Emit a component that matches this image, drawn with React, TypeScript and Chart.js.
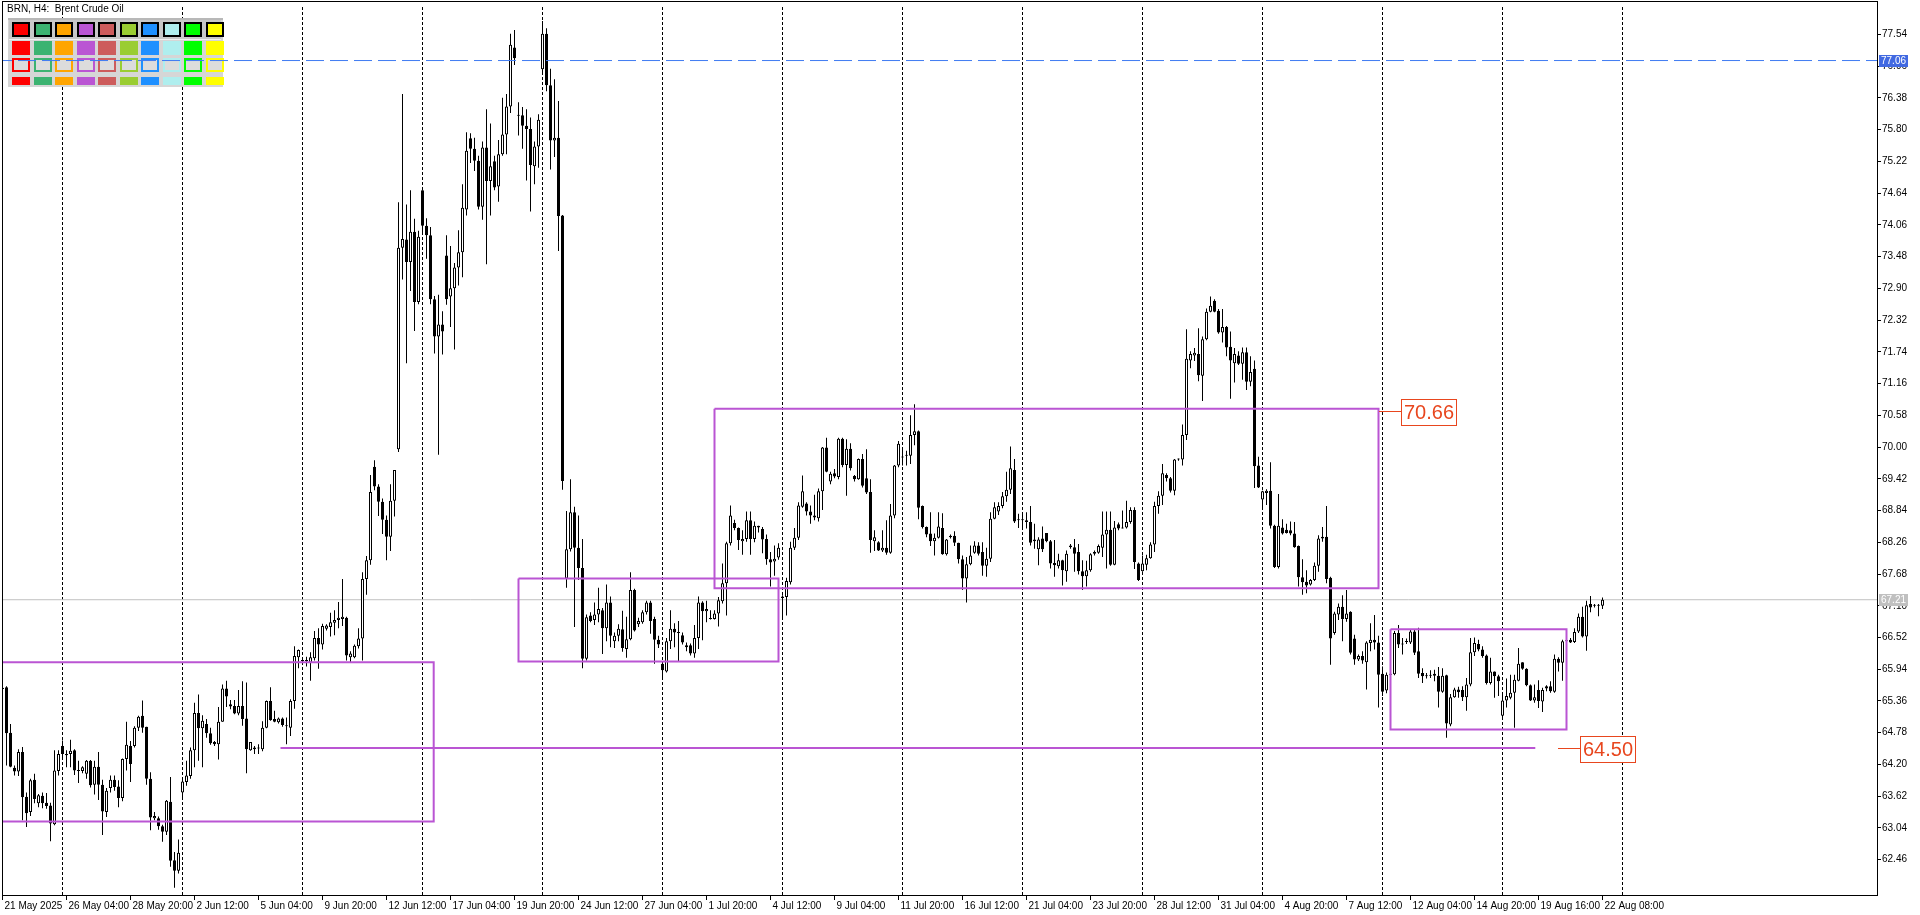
import React, { useEffect, useRef } from 'react';
import { Chart, registerables } from 'chart.js';

Chart.register(...registerables);

// ---- H4 candles (bar index 0 = 21 May 2025) ----
const opens = [
65.60,65.61,64.78,64.14,64.07,64.43,63.61,63.33,63.92,63.49,63.63,63.50,63.45,63.11,64.08,64.54,64.39,64.39,64.46,64.10,
64.08,64.03,64.27,63.83,64.16,63.83,63.33,63.77,63.92,63.80,63.59,64.30,64.54,64.54,64.87,65.09,64.89,63.94,63.22,63.22,
63.07,62.97,63.52,62.45,62.26,63.69,63.88,63.99,64.46,65.14,64.86,64.94,64.77,64.61,64.57,64.98,65.59,65.30,65.27,65.13,
65.27,65.04,64.46,64.51,64.49,64.48,64.87,65.36,65.03,64.97,65.04,64.91,64.87,65.36,66.16,66.10,66.11,66.06,66.14,66.51,
66.39,66.68,66.71,66.79,66.84,66.86,66.88,66.16,66.16,66.36,66.50,67.59,67.93,69.64,69.28,69.00,68.67,68.36,69.02,69.96,
73.64,73.79,73.38,73.93,72.65,74.69,74.04,73.87,72.70,72.02,72.24,73.50,72.75,72.90,73.28,73.56,74.34,75.64,75.45,75.23,
74.39,75.47,74.86,75.22,74.76,75.35,75.71,76.22,77.30,76.06,76.06,75.87,75.81,75.13,75.49,76.90,77.55,76.61,75.60,75.65,
74.23,67.60,68.13,68.81,68.16,67.79,66.13,66.92,66.84,66.94,67.02,66.69,67.16,66.45,66.55,66.67,66.31,66.49,67.39,66.76,
66.80,66.98,67.16,66.86,66.48,66.04,65.90,66.45,66.68,66.61,66.56,66.38,66.38,66.23,66.51,67.16,67.00,66.87,66.86,66.96,
67.18,67.51,68.24,68.61,68.52,68.28,68.32,68.66,68.32,68.53,68.50,68.32,67.95,67.91,67.98,67.24,67.26,67.53,68.16,68.34,
68.91,68.97,68.82,68.75,68.70,69.19,69.99,69.37,69.52,69.45,70.15,69.67,69.97,69.47,69.41,69.78,69.43,69.18,68.28,68.26,
68.11,68.16,68.07,68.75,69.66,69.81,69.85,69.84,70.22,70.29,68.92,68.54,68.42,68.28,68.34,68.52,68.04,68.38,68.38,68.25,
67.95,67.60,67.86,68.07,68.20,68.08,67.83,67.96,68.69,68.82,68.92,69.10,69.22,69.58,68.66,68.66,68.66,68.63,68.28,68.13,
68.33,68.43,68.28,67.88,67.82,67.93,67.73,68.20,68.17,68.08,67.73,67.64,67.75,68.05,68.07,68.16,68.40,68.49,67.85,68.59,
68.51,68.53,68.63,68.85,67.87,67.73,67.85,67.97,68.22,68.92,69.11,69.49,69.43,69.20,69.77,69.77,70.22,71.58,71.67,71.70,
71.30,71.97,72.47,72.67,72.49,72.09,72.19,71.83,71.53,71.67,71.52,71.73,71.19,71.43,69.66,69.04,69.16,69.20,68.56,67.81,
68.53,68.49,68.48,68.42,68.19,67.62,67.54,67.49,67.57,67.83,68.33,68.36,67.61,66.60,66.94,67.08,66.86,66.99,66.50,66.12,
66.18,66.07,66.42,66.48,66.43,65.86,65.55,65.84,65.85,66.60,66.39,66.44,66.43,66.63,66.27,65.87,65.81,65.82,65.82,65.82,
65.53,65.83,64.93,65.43,65.57,65.56,65.43,65.66,66.25,66.40,66.30,66.19,65.69,65.90,65.81,65.09,65.37,65.42,65.51,65.73,
66.07,65.95,65.65,65.37,65.56,65.35,65.63,65.63,65.53,66.13,66.06,66.45,66.48,66.44,66.63,66.90,66.54,67.13,67.10,67.10,
67.10];
const highs = [
65.62,65.63,64.94,64.18,64.48,64.52,63.69,63.94,64.03,63.66,63.69,63.68,63.50,64.46,64.46,64.64,64.46,64.65,64.48,64.27,
64.17,64.28,64.28,64.27,64.43,63.92,63.77,64.00,64.00,63.91,64.31,64.98,64.63,64.90,65.09,65.37,64.89,64.06,63.33,63.25,
63.10,63.55,63.97,62.60,62.83,63.97,64.27,64.51,65.33,65.48,65.10,65.03,64.87,64.63,65.25,65.66,65.73,65.38,65.38,65.56,
65.72,65.70,64.61,64.54,64.57,64.99,65.37,65.61,65.18,65.06,65.06,65.06,65.39,66.36,66.30,66.13,66.17,66.25,66.64,66.69,
66.77,66.76,66.97,67.02,67.17,67.59,66.90,66.27,66.39,66.69,67.71,68.01,69.49,69.76,69.32,69.06,68.75,69.32,69.58,74.47,
76.45,74.43,74.69,74.17,73.95,74.69,74.18,74.02,72.76,72.78,72.48,73.87,73.67,73.36,73.96,74.80,75.75,75.73,75.65,75.32,
75.58,76.17,75.91,75.32,75.61,76.38,76.45,77.55,77.62,76.30,76.21,76.17,76.02,75.58,76.08,77.78,77.65,76.91,76.72,76.32,
74.24,68.83,69.41,68.91,68.75,68.32,66.94,66.98,67.16,67.43,67.06,67.49,67.27,66.61,66.76,67.01,66.90,67.71,67.41,66.88,
67.02,67.19,67.19,66.90,66.55,66.09,66.51,67.02,66.78,66.82,66.61,66.43,66.41,66.75,67.27,67.18,67.19,67.02,67.02,67.26,
67.87,68.27,68.93,68.67,68.53,68.48,68.82,68.82,68.64,68.56,68.54,68.40,68.08,68.20,68.24,67.29,67.61,68.27,68.52,68.99,
69.48,68.99,68.93,69.13,69.24,70.00,70.17,69.55,69.60,70.17,70.17,70.14,70.07,69.49,69.79,69.87,69.96,69.41,68.48,68.28,
68.48,68.66,68.96,69.67,70.11,69.97,69.93,70.58,70.78,70.30,68.93,68.55,68.81,68.42,68.81,68.79,68.32,68.40,68.46,68.25,
68.02,67.99,68.20,68.28,68.26,68.26,68.16,68.81,68.99,68.99,69.18,69.55,70.01,69.78,68.78,68.76,68.81,68.92,68.60,68.35,
68.55,68.43,68.30,68.30,68.05,67.94,68.11,68.23,68.32,68.23,67.93,67.92,68.06,68.11,68.22,68.82,68.82,68.82,68.65,68.62,
68.84,69.02,68.90,68.90,67.89,68.02,68.03,68.26,69.00,69.19,69.69,69.52,69.45,69.78,69.79,70.41,72.15,71.75,71.81,72.17,
72.02,72.53,72.75,72.70,72.52,72.52,72.21,72.11,71.81,71.75,71.82,71.82,71.66,71.58,69.82,69.20,69.23,69.72,68.58,69.14,
68.68,68.60,68.64,68.63,68.20,67.95,67.75,67.59,67.89,68.39,68.54,68.92,67.63,66.99,67.14,67.29,67.39,67.00,66.57,66.21,
66.27,66.45,66.78,66.93,66.55,65.99,65.88,65.95,66.64,66.75,66.51,66.50,66.66,66.66,66.70,65.96,65.87,65.92,65.93,65.98,
65.96,65.84,65.49,65.60,65.62,65.63,65.78,66.51,66.52,66.48,66.36,66.21,66.15,65.90,65.84,65.49,65.77,65.84,65.84,66.33,
66.07,65.96,65.66,65.66,65.74,65.60,65.65,65.72,66.21,66.16,66.48,66.55,66.51,66.69,66.96,67.08,67.19,67.28,67.13,67.13,
67.25];
const lows = [
65.50,64.18,64.15,64.00,63.99,63.18,63.06,63.26,63.49,63.42,63.40,63.39,62.80,63.09,64.00,64.30,64.15,64.15,64.01,63.86,
64.04,63.94,63.78,63.65,63.55,62.91,63.24,63.69,63.72,63.42,63.53,64.09,63.88,64.51,64.81,64.78,63.83,63.00,63.18,63.01,
62.79,62.91,62.33,61.95,62.21,63.60,63.81,63.94,64.15,64.27,64.15,64.69,64.56,64.54,64.29,64.98,65.25,65.21,65.12,65.10,
64.91,64.04,64.45,64.39,64.39,64.44,64.86,65.00,64.97,64.95,64.89,64.57,64.72,65.22,65.96,66.05,65.99,65.73,66.10,65.95,
66.30,66.65,66.54,66.56,66.69,66.73,66.10,66.06,66.14,66.32,66.10,67.30,67.85,69.21,68.74,68.41,67.93,68.10,68.73,69.91,
73.06,71.53,72.85,72.12,72.61,73.88,73.44,72.61,71.71,69.86,71.69,72.60,72.19,71.78,72.95,73.10,74.23,75.19,75.04,74.34,
74.15,73.34,74.23,74.69,74.48,75.32,75.35,76.10,76.98,75.69,75.45,74.87,74.30,74.80,75.10,76.80,76.50,75.07,75.30,73.58,
69.22,67.43,68.09,66.71,67.57,65.96,66.10,66.80,66.75,66.80,66.22,66.45,66.34,66.33,66.45,66.26,66.15,66.47,66.63,66.71,
66.77,66.94,66.59,66.04,66.33,65.76,65.88,66.31,66.34,66.08,66.39,66.27,66.19,66.15,66.31,66.47,66.80,66.85,66.85,66.72,
67.14,66.92,68.20,68.48,68.12,68.03,68.27,68.03,68.26,68.44,68.06,67.85,67.45,67.65,67.94,66.88,66.92,67.49,68.12,68.30,
68.89,68.75,68.60,68.66,68.64,68.85,69.54,69.32,69.43,69.41,69.63,69.11,69.57,69.37,69.40,69.26,69.14,68.07,68.10,68.10,
68.08,68.03,68.05,68.70,69.63,69.66,69.66,69.69,70.03,68.68,68.51,68.35,68.19,68.02,68.33,68.03,68.02,68.33,68.19,67.87,
67.39,67.16,67.84,68.05,68.02,67.65,67.63,67.90,68.68,68.76,68.88,69.00,69.14,68.61,68.52,68.51,68.51,68.20,68.14,67.84,
68.08,68.26,67.78,67.63,67.78,67.47,67.54,68.14,67.72,67.67,67.39,67.45,67.72,68.02,68.05,67.99,67.78,67.83,67.84,68.48,
68.51,68.51,68.60,67.77,67.55,67.72,67.75,67.96,68.08,68.78,68.94,69.37,69.17,69.12,69.75,69.66,70.13,71.44,71.57,71.20,
70.84,71.95,72.46,72.46,72.07,71.91,71.66,70.88,71.18,71.50,71.23,71.04,71.11,69.25,69.25,68.88,68.94,68.51,67.79,67.78,
68.40,68.42,68.39,68.16,67.45,67.30,67.33,67.47,67.55,67.72,68.27,67.51,66.02,66.57,66.84,66.45,66.81,66.21,66.02,66.09,
66.04,65.57,66.27,66.30,65.24,65.45,65.50,65.75,65.83,66.33,66.21,66.40,66.40,66.20,65.78,65.69,65.77,65.78,65.72,65.24,
65.51,64.69,64.90,65.42,65.42,65.36,65.18,65.63,66.18,66.27,66.15,65.66,65.66,65.42,65.45,65.03,65.24,65.39,64.87,65.72,
65.93,65.63,65.36,65.33,65.23,65.16,65.54,65.51,65.51,65.90,65.73,66.40,66.42,66.42,66.60,66.52,66.28,66.98,67.07,66.91,
67.04];
const closes = [
65.58,64.77,64.16,64.07,64.43,63.60,63.31,63.91,63.57,63.64,63.49,63.44,63.12,64.09,64.39,64.39,64.37,64.45,64.09,64.08,
64.15,64.27,63.82,64.16,63.83,63.34,63.72,63.92,63.79,63.59,64.30,64.56,64.21,64.87,65.07,64.87,63.94,63.23,63.26,63.07,
62.97,63.54,62.44,62.26,62.59,63.89,64.00,64.46,65.14,64.86,65.00,64.77,64.59,64.57,64.98,65.59,65.44,65.26,65.13,65.27,
65.03,64.48,64.61,64.48,64.49,64.87,65.36,65.01,64.98,65.04,64.92,64.90,65.36,66.18,66.29,66.09,66.09,66.16,66.51,66.39,
66.73,66.74,66.80,66.84,66.88,66.90,66.19,66.23,66.37,66.50,67.59,67.93,69.18,69.28,69.00,68.67,68.36,69.02,69.58,73.64,
73.80,73.38,73.93,72.65,73.84,74.04,73.87,72.70,72.02,72.24,72.11,72.70,72.90,73.28,73.56,74.37,75.41,75.45,75.23,74.39,
75.47,74.86,75.13,74.74,75.35,75.71,76.22,77.35,77.10,76.05,75.87,75.81,75.15,75.49,75.98,77.55,76.61,75.60,75.65,74.22,
69.38,68.13,68.81,68.16,67.79,66.13,66.89,66.82,66.94,67.04,66.69,67.16,66.55,66.55,66.68,66.33,66.49,67.39,66.65,66.82,
66.98,67.16,66.82,66.48,66.39,65.92,66.45,66.68,66.61,66.60,66.43,66.34,66.23,66.51,67.16,67.00,67.04,66.86,66.96,67.20,
67.51,68.24,68.75,68.52,68.30,68.32,68.66,68.32,68.56,68.56,68.31,67.95,67.89,67.96,68.16,67.27,67.55,68.16,68.34,68.93,
69.19,68.82,68.75,68.71,69.19,69.99,69.55,69.51,69.46,70.15,69.67,69.97,69.61,69.41,69.78,69.29,69.17,68.30,68.35,68.11,
68.16,68.07,68.75,69.66,70.06,69.82,69.84,70.22,70.29,68.89,68.54,68.40,68.28,68.34,68.55,68.04,68.31,68.35,68.25,67.95,
67.60,67.86,68.02,68.20,68.05,67.83,67.96,68.69,68.90,68.92,69.10,69.22,69.61,68.64,68.66,68.66,68.63,68.25,68.31,68.31,
68.13,68.28,67.87,67.84,67.93,67.75,68.05,68.17,68.05,67.73,67.64,67.75,68.04,68.08,68.19,68.40,68.49,67.85,68.53,68.51,
68.53,68.63,68.85,67.90,67.57,67.87,67.97,68.22,68.92,69.11,69.52,69.43,69.20,69.77,69.78,70.22,71.61,71.70,71.72,71.31,
71.97,72.47,72.58,72.47,72.09,72.19,71.82,71.58,71.70,71.52,71.73,71.19,71.37,69.65,69.26,69.19,69.20,68.56,67.81,68.56,
68.42,68.43,68.42,68.17,67.62,67.53,67.47,67.57,67.83,68.33,68.36,67.59,66.50,66.96,67.08,66.86,66.96,66.24,66.12,66.18,
66.10,66.43,66.48,66.43,65.84,65.53,65.84,65.86,66.60,66.39,66.41,66.44,66.63,66.24,65.86,65.81,65.81,65.82,65.86,65.53,
65.82,64.95,65.43,65.57,65.52,65.43,65.66,66.25,66.42,66.30,66.18,65.69,65.90,65.81,65.72,65.37,65.45,65.51,65.75,66.04,
65.95,65.65,65.37,65.43,65.36,65.56,65.59,65.54,66.13,66.06,66.45,66.47,66.43,66.62,66.90,66.54,67.11,67.07,67.10,67.10,
67.21];

// ---- axes ----
const xTickBars = [0,16,32,48,64,80,96,112,128,144,160,176,192,208,224,240,256,272,288,304,320,336,352,368,384,400];
const xTickLabels = ['21 May 2025','26 May 04:00','28 May 20:00','2 Jun 12:00','5 Jun 04:00','9 Jun 20:00','12 Jun 12:00',
  '17 Jun 04:00','19 Jun 20:00','24 Jun 12:00','27 Jun 04:00','1 Jul 20:00','4 Jul 12:00','9 Jul 04:00','11 Jul 20:00',
  '16 Jul 12:00','21 Jul 04:00','23 Jul 20:00','28 Jul 12:00','31 Jul 04:00','4 Aug 20:00','7 Aug 12:00','12 Aug 04:00',
  '14 Aug 20:00','19 Aug 16:00','22 Aug 08:00'];
const separatorBars = [15,45,75,105,135,165,195,225,255,285,315,345,375,405];
const yTickValues = [62.46,63.04,63.62,64.20,64.78,65.36,65.94,66.52,67.10,67.68,68.26,68.84,69.42,70.00,70.58,71.16,
  71.74,72.32,72.90,73.48,74.06,74.64,75.22,75.80,76.38,76.96,77.54];

// ---- drawn objects ----
const currentPrice = 67.21;
const hLinePrice = 77.06;
const boxX1 = [-6, 129, 178, 347];
const boxX2 = [107.8, 194, 344, 391];
const boxTop = [66.07, 67.60, 70.70, 66.67];
const boxBottom = [63.16, 66.08, 67.42, 64.84];
const supportBars = [69.5, 383.2];
const supportPrice = 64.50;
const labelBars = [344, 388.9];
const labelPrices = [70.66, 64.50];
const panelColors = ['#ff0000','#3cb371','#ffa500','#ba55d3','#cd5c5c','#9acd32','#1e90ff','#afeeee','#00ff00','#ffff00'];

const X_MIN = -0.125;
const X_MAX = 468.625;
const Y_MIN = 61.816;
const Y_MAX = 78.038;
const FONT = "'Liberation Sans', Arial, sans-serif";

export default function App() {
  const ref = useRef<HTMLCanvasElement | null>(null);

  useEffect(() => {
    document.body.style.margin = '0';
    const canvas = ref.current;
    if (!canvas) return;

    const idx = opens.map((_, i) => i);
    const bodyData = idx.map(i => ({ x: i, y: [opens[i], closes[i]] }));
    const wickData = idx.map(i => ({ x: i, y: [lows[i], highs[i]] }));

    const boxDatasets = boxX1.map((_, k) => ({
      type: 'line' as const,
      data: [
        { x: boxX1[k], y: boxTop[k] }, { x: boxX2[k], y: boxTop[k] },
        { x: boxX2[k], y: boxBottom[k] }, { x: boxX1[k], y: boxBottom[k] },
        { x: boxX1[k], y: boxTop[k] },
      ],
      borderColor: '#ba55d3', borderWidth: 2, pointRadius: 0, tension: 0, fill: false, order: -2,
      xAxisID: 'x', yAxisID: 'y',
    }));

    const panelPlugin = {
      id: 'mtPanel',
      beforeDatasetsDraw(chart: any) {
        const ctx = chart.ctx;
        ctx.save();
        ctx.fillStyle = '#d6d6d6';
        ctx.fillRect(8, 18, 215, 69);
        ctx.fillStyle = '#b8b8b8';
        ctx.fillRect(8, 18, 215, 2);
        ctx.fillStyle = '#c8c8c8';
        ctx.fillRect(9, 20, 212, 19);
        ctx.fillStyle = '#f0f0f0';
        ctx.fillRect(9, 39, 212, 1);
        panelColors.forEach((c, k) => {
          const xi = Math.round(12 + k * 21.5);
          ctx.fillStyle = '#000';
          ctx.fillRect(xi, 22, 18, 15);
          ctx.fillStyle = c;
          ctx.fillRect(xi + 2, 24, 14, 11);
          ctx.fillStyle = c;
          ctx.fillRect(xi, 41, 18, 14);
          ctx.fillRect(xi, 58, 18, 14);
          ctx.fillStyle = '#dcdcdc';
          ctx.fillRect(xi + 2, 60, 14, 10);
          ctx.fillStyle = c;
          ctx.fillRect(xi, 77, 18, 8);
        });
        ctx.restore();
      },
    };

    const overlayPlugin = {
      id: 'mtOverlay',
      afterDraw(chart: any) {
        const ctx = chart.ctx;
        const xs = chart.scales.x;
        const ys = chart.scales.y;
        const area = chart.chartArea;
        ctx.save();
        ctx.strokeStyle = '#000';
        ctx.lineWidth = 1;
        ctx.beginPath();
        ctx.moveTo(2.5, 1);
        ctx.lineTo(2.5, area.bottom);
        ctx.moveTo(2, 1.5);
        ctx.lineTo(area.right + 1, 1.5);
        ctx.moveTo(area.right + 0.5, 1);
        ctx.lineTo(area.right + 0.5, area.bottom);
        ctx.stroke();
        ctx.fillStyle = '#000';
        ctx.font = `10px ${FONT}`;
        ctx.textAlign = 'left';
        ctx.textBaseline = 'middle';
        ctx.fillText('BRN, H4:  Brent Crude Oil', 7, 9);
        labelBars.forEach((b, k) => {
          const x = Math.round(xs.getPixelForValue(b));
          const y = Math.round(ys.getPixelForValue(labelPrices[k]));
          ctx.strokeStyle = '#e8461e';
          ctx.lineWidth = 1;
          ctx.beginPath();
          ctx.moveTo(x, y + 0.5);
          ctx.lineTo(x + 22, y + 0.5);
          ctx.stroke();
          ctx.fillStyle = '#ffffff';
          ctx.fillRect(x + 22, y - 12, 55, 26);
          ctx.strokeRect(x + 22.5, y - 11.5, 55, 26);
          ctx.fillStyle = '#e8461e';
          ctx.font = `20px ${FONT}`;
          ctx.textAlign = 'center';
          ctx.textBaseline = 'middle';
          ctx.fillText(labelPrices[k].toFixed(2), x + 50, y + 2);
        });
        const tag = (price: number, bg: string, fg: string) => {
          const y = Math.round(ys.getPixelForValue(price));
          ctx.fillStyle = bg;
          ctx.fillRect(area.right + 2, y - 6, 29, 12);
          ctx.fillStyle = fg;
          ctx.font = `10px ${FONT}`;
          ctx.textAlign = 'left';
          ctx.textBaseline = 'middle';
          ctx.fillText(price.toFixed(2), area.right + 4, y + 0.5);
        };
        tag(hLinePrice, '#4169e1', '#ffffff');
        tag(currentPrice, '#c0c0c0', '#ffffff');
        ctx.restore();
      },
    };

    const chart = new Chart(canvas, {
      type: 'bar',
      data: {
        datasets: [
          {
            type: 'bar',
            data: bodyData as any,
            backgroundColor: (c: any) => (closes[c.dataIndex] >= opens[c.dataIndex] ? '#ffffff' : '#000000'),
            borderColor: '#000000',
            borderWidth: 1,
            borderSkipped: false,
            barThickness: 3,
            minBarLength: 1,
            inflateAmount: 0,
            grouped: false,
            order: 0,
            xAxisID: 'x', yAxisID: 'y',
          } as any,
          {
            type: 'bar',
            data: wickData as any,
            backgroundColor: '#000000',
            borderWidth: 0,
            barThickness: 1,
            minBarLength: 1,
            inflateAmount: 0,
            grouped: false,
            order: 1,
            xAxisID: 'x', yAxisID: 'y',
          } as any,
          {
            type: 'line',
            data: [{ x: X_MIN - 2, y: currentPrice }, { x: X_MAX + 2, y: currentPrice }],
            borderColor: '#c0c0c0', borderWidth: 1, pointRadius: 0, fill: false, order: 3,
            xAxisID: 'x', yAxisID: 'y',
          } as any,
          {
            type: 'line',
            data: [{ x: X_MIN - 2, y: hLinePrice }, { x: X_MAX + 2, y: hLinePrice }],
            borderColor: '#3f7bf2', borderWidth: 1, borderDash: [18, 6], pointRadius: 0, fill: false, order: -3,
            xAxisID: 'x', yAxisID: 'y',
          } as any,
          {
            type: 'line',
            data: [{ x: supportBars[0], y: supportPrice }, { x: supportBars[1], y: supportPrice }],
            borderColor: '#ba55d3', borderWidth: 2, pointRadius: 0, fill: false, order: -2,
            xAxisID: 'x', yAxisID: 'y',
          } as any,
          ...(boxDatasets as any[]),
        ],
      },
      options: {
        responsive: false,
        devicePixelRatio: 1,
        animation: false,
        events: [],
        layout: { padding: { left: 2, top: 2, right: 0, bottom: 0 } },
        plugins: { legend: { display: false }, tooltip: { enabled: false }, title: { display: false } },
        scales: {
          xg: {
            type: 'linear', position: 'bottom', min: X_MIN, max: X_MAX, offset: false,
            afterBuildTicks: (s: any) => { s.ticks = separatorBars.map(v => ({ value: v })); },
            afterFit: (s: any) => { s.height = 0; },
            ticks: { display: false },
            grid: { color: '#000000', lineWidth: 1, drawTicks: false, tickLength: 0, offset: false },
            border: { display: false, dash: [3, 2] },
          },
          x: {
            type: 'linear', position: 'bottom', min: X_MIN, max: X_MAX, offset: false,
            afterBuildTicks: (s: any) => { s.ticks = xTickBars.map(v => ({ value: v })); },
            afterFit: (s: any) => { s.height = 20; },
            ticks: {
              autoSkip: false, maxRotation: 0, minRotation: 0, align: 'start', labelOffset: 2, padding: 0,
              color: '#000000', font: { family: FONT, size: 10 },
              callback: (_v: any, i: number) => xTickLabels[i],
            },
            grid: { drawOnChartArea: false, drawTicks: true, tickLength: 5, color: '#000000', offset: false },
            border: { display: true, color: '#000000', width: 1 },
          },
          y: {
            type: 'linear', position: 'right', min: Y_MIN, max: Y_MAX,
            afterBuildTicks: (s: any) => { s.ticks = yTickValues.map(v => ({ value: v })); },
            afterFit: (s: any) => { s.width = 43; },
            ticks: {
              color: '#000000', padding: 1, font: { family: FONT, size: 10 },
              callback: (v: any) => Number(v).toFixed(2),
            },
            grid: { drawOnChartArea: false, drawTicks: true, tickLength: 4, color: '#000000' },
            border: { display: true, color: '#000000', width: 1 },
          },
        },
      } as any,
      plugins: [panelPlugin, overlayPlugin],
    });

    return () => chart.destroy();
  }, []);

  return (
    <div style={{ position: 'relative', width: 1920, height: 915, background: '#ffffff' }}>
      <canvas ref={ref} width={1920} height={915} style={{ display: 'block' }} />
    </div>
  );
}
